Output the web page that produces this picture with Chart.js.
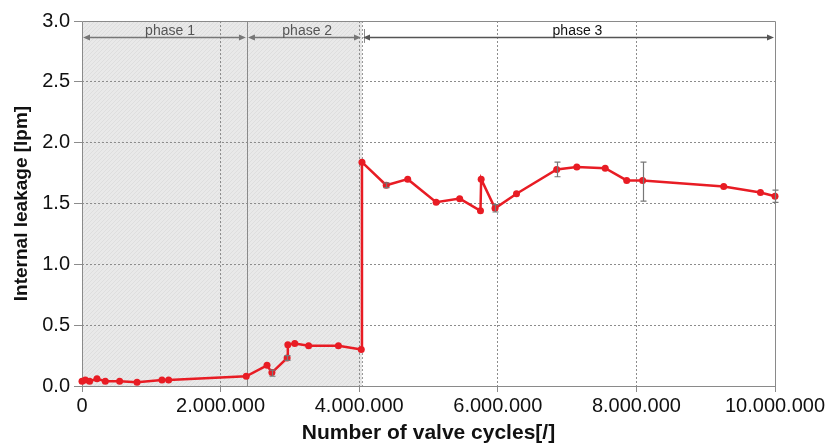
<!DOCTYPE html>
<html>
<head>
<meta charset="utf-8">
<script src="https://cdn.jsdelivr.net/npm/chart.js@4/dist/chart.umd.min.js"></script>
<style>
  body { margin: 0; background: #fff; }
  #wrap { width: 829px; height: 446px; }
</style>
</head>
<body>
<div id="wrap"><canvas id="leakage" width="829" height="446"></canvas></div>
<script>
// data
var cycles = [0, 48000, 110000, 216000, 336000, 543000, 794000, 1154000, 1250000,
  2370000, 2670000, 2740000, 2960000, 2970000, 3070000, 3270000, 3700000, 4030000,
  4040000, 4390000, 4700000, 5110000, 5450000, 5750000, 5760000, 5960000, 6270000,
  6850000, 7140000, 7550000, 7860000, 8090000, 9260000, 9790000, 10000000];
var leakage = [0.04, 0.05, 0.04, 0.06, 0.04, 0.04, 0.03, 0.05, 0.05,
  0.08, 0.17, 0.11, 0.23, 0.34, 0.35, 0.33, 0.33, 0.30,
  1.84, 1.65, 1.70, 1.51, 1.54, 1.44, 1.70, 1.46, 1.58,
  1.78, 1.80, 1.79, 1.69, 1.69, 1.64, 1.59, 1.56];

// error bars (low / high)
var errCycles = [2740000, 2960000, 4390000, 5960000, 6850000, 8090000, 10000000];
var errLow = [0.08, 0.21, 1.63, 1.43, 1.72, 1.52, 1.51];
var errHigh = [0.13, 0.25, 1.67, 1.49, 1.84, 1.84, 1.61];

// phases
var phaseNames = ['phase 1', 'phase 2', 'phase 3'];
var phaseStart = [0, 2380000, 4040000];
var phaseEnd = [2380000, 4040000, 10000000];
var phaseLabelAt = [1270000, 3250000, 7150000];
var shadeEnd = 4040000;

var points = cycles.map(function(c, i) { return { x: c, y: leakage[i] }; });

var red = 'rgb(232,28,36)';

var makeHatch = function() {
  var c = document.createElement('canvas');
  c.width = 4; c.height = 4;
  var g = c.getContext('2d');
  g.fillStyle = '#e9e9e9';
  g.fillRect(0, 0, 4, 4);
  g.fillStyle = '#dedede';
  for (var i = 0; i < 4; i++) g.fillRect(i, 3 - i, 1, 1);
  return g.createPattern(c, 'repeat');
};

var backgroundPlugin = {
  id: 'phaseShade',
  beforeDraw: function(chart) {
    var ctx = chart.ctx, xs = chart.scales.x, a = chart.chartArea;
    var x1 = xs.getPixelForValue(shadeEnd);
    ctx.save();
    ctx.fillStyle = makeHatch();
    ctx.fillRect(a.left, a.top, x1 - a.left, a.bottom - a.top);
    ctx.restore();
  },
  beforeDatasetsDraw: function(chart) {
    var ctx = chart.ctx, xs = chart.scales.x, ys = chart.scales.y, a = chart.chartArea;
    ctx.save();
    // dotted edge of shaded area
    var xe = Math.round(xs.getPixelForValue(shadeEnd)) + 0.5;
    ctx.strokeStyle = '#999';
    ctx.lineWidth = 1;
    ctx.setLineDash([2, 2]);
    ctx.beginPath(); ctx.moveTo(xe, a.top); ctx.lineTo(xe, a.bottom); ctx.stroke();
    ctx.setLineDash([]);
    // solid boundary phase1/phase2
    var xb = Math.round(xs.getPixelForValue(phaseEnd[0])) + 0.5;
    ctx.strokeStyle = '#8a8a8a';
    ctx.beginPath(); ctx.moveTo(xb, a.top); ctx.lineTo(xb, a.bottom); ctx.stroke();
    // short solid mark at phase 3 start
    var xc = Math.round(xs.getPixelForValue(phaseStart[2])) + 2.5;
    ctx.beginPath(); ctx.moveTo(xc, a.top + 8); ctx.lineTo(xc, ys.getPixelForValue(2.82)); ctx.stroke();
    // plot box
    ctx.strokeStyle = '#8a8a8a';
    ctx.beginPath();
    ctx.moveTo(a.left + 0.5, a.bottom + 0.5); ctx.lineTo(a.left + 0.5, a.top + 0.5);
    ctx.lineTo(a.right + 0.5, a.top + 0.5); ctx.lineTo(a.right + 0.5, a.bottom + 0.5);
    ctx.lineTo(a.left + 0.5, a.bottom + 0.5);
    ctx.stroke();

    // phase arrows + labels
    var ay = Math.round(ys.getPixelForValue(2.865)) + 0.5;
    ctx.font = '14px "Liberation Sans", Arial, sans-serif';
    ctx.textAlign = 'center';
    ctx.textBaseline = 'alphabetic';
    for (var i = 0; i < phaseNames.length; i++) {
      var p0 = xs.getPixelForValue(phaseStart[i]) + 1;
      var p1 = xs.getPixelForValue(phaseEnd[i]) - 1;
      var col = i == 2 ? '#555' : '#777';
      ctx.strokeStyle = col;
      ctx.fillStyle = col;
      ctx.lineWidth = 1.5;
      ctx.beginPath(); ctx.moveTo(p0 + 4, ay); ctx.lineTo(p1 - 4, ay); ctx.stroke();
      ctx.beginPath(); ctx.moveTo(p0, ay); ctx.lineTo(p0 + 7, ay - 3); ctx.lineTo(p0 + 7, ay + 3); ctx.closePath(); ctx.fill();
      ctx.beginPath(); ctx.moveTo(p1, ay); ctx.lineTo(p1 - 7, ay - 3); ctx.lineTo(p1 - 7, ay + 3); ctx.closePath(); ctx.fill();
      ctx.fillStyle = i == 2 ? '#111' : '#555';
      ctx.fillText(phaseNames[i], xs.getPixelForValue(phaseLabelAt[i]), ay - 3);
    }
    ctx.restore();
  },
  afterDatasetsDraw: function(chart) {
    var ctx = chart.ctx, xs = chart.scales.x, ys = chart.scales.y;
    ctx.save();
    ctx.strokeStyle = '#777';
    ctx.lineWidth = 1.2;
    for (var i = 0; i < errCycles.length; i++) {
      var px = Math.round(xs.getPixelForValue(errCycles[i])) + 0.5;
      var lo = ys.getPixelForValue(errLow[i]);
      var hi = ys.getPixelForValue(errHigh[i]);
      ctx.beginPath();
      ctx.moveTo(px, lo); ctx.lineTo(px, hi);
      ctx.moveTo(px - 3, lo); ctx.lineTo(px + 3, lo);
      ctx.moveTo(px - 3, hi); ctx.lineTo(px + 3, hi);
      ctx.stroke();
    }
    ctx.restore();
  }
};

var dotted = function(v) {
  return String(Math.round(v)).replace(/\B(?=(\d{3})+(?!\d))/g, '.');
};

var hideEnds = function(lo, hi) {
  return function(c) {
    return (c.tick && (c.tick.value == lo || c.tick.value == hi)) ? 'rgba(0,0,0,0)' : '#8c8c8c';
  };
};

window.onload = function() {
  var ctx = document.getElementById('leakage');

  var chart = new Chart(ctx, {
    type: 'line',
    data: {
      datasets: [{
        label: 'Internal leakage',
        data: points,
        borderColor: red,
        backgroundColor: red,
        borderWidth: 2.5,
        pointRadius: 3.5,
        pointHoverRadius: 3.5,
        pointBorderWidth: 0,
        tension: 0,
        clip: false
      }]
    },
    options: {
      responsive: false,
      animation: false,
      events: [],
      layout: { padding: { top: 21, right: 54, left: 0, bottom: 0 } },
      plugins: {
        legend: { display: false },
        tooltip: { enabled: false }
      },
      scales: {
        x: {
          type: 'linear',
          min: 0,
          max: 10000000,
          afterFit: function(scale) { scale.height = 60; },
          ticks: {
            stepSize: 2000000,
            maxRotation: 0,
            padding: 2,
            color: '#111',
            font: { family: '"Liberation Sans", Arial, sans-serif', size: 20 },
            callback: function(v) { return dotted(v); }
          },
          grid: {
            color: hideEnds(0, 10000000),
            tickColor: '#8c8c8c',
            tickBorderDash: [],
            tickLength: 6
          },
          border: { display: false, dash: [2, 2] },
          title: {
            display: true,
            text: 'Number of valve cycles[/]',
            color: '#111',
            padding: { top: 2, bottom: 0 },
            font: { family: '"Liberation Sans", Arial, sans-serif', size: 21, weight: 'bold' }
          }
        },
        y: {
          min: 0,
          max: 3,
          afterFit: function(scale) { scale.width = 82; },
          ticks: {
            stepSize: 0.5,
            padding: 4,
            color: '#111',
            font: { family: '"Liberation Sans", Arial, sans-serif', size: 20 },
            callback: function(v) { return v.toFixed(1); }
          },
          grid: {
            color: hideEnds(0, 3),
            tickColor: '#8c8c8c',
            tickBorderDash: [],
            tickLength: 8
          },
          border: { display: false, dash: [2, 2] },
          title: {
            display: true,
            text: 'Internal leakage [lpm]',
            color: '#111',
            padding: { top: 10, bottom: 2 },
            font: { family: '"Liberation Sans", Arial, sans-serif', size: 19, weight: 'bold' }
          }
        }
      }
    },
    plugins: [backgroundPlugin]
  });
};
</script>
</body>
</html>
